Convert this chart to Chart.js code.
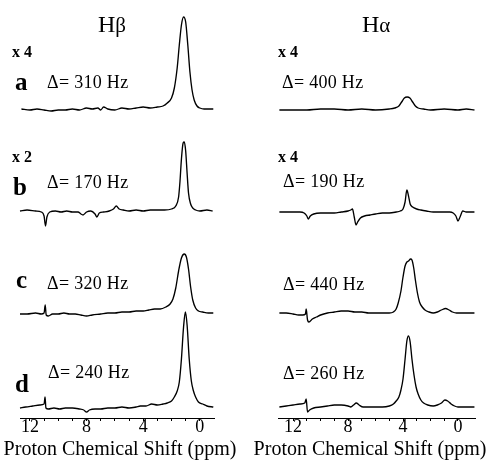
<!DOCTYPE html>
<html><head><meta charset="utf-8">
<script src="https://cdn.jsdelivr.net/npm/chart.js@4.4.1/dist/chart.umd.min.js"></script>
<style>
html,body{margin:0;padding:0;background:#fff;}
#wrap{position:relative;width:489px;height:467px;overflow:hidden;font-family:'Liberation Serif','Times New Roman',serif;color:#000;}
canvas{position:absolute;top:0;}
.t{position:absolute;white-space:nowrap;line-height:1;}
</style></head><body>
<div id="wrap">
<canvas id="cL" width="245" height="467" style="left:0px"></canvas>
<canvas id="cR" width="244" height="467" style="left:245px"></canvas>
</div>
<script>
// ---------------- DATA ----------------
const columnTitles = ['Hβ', 'Hα'];
const rowLetters = ['a', 'b', 'c', 'd'];
const hbDeltas = ['Δ= 310 Hz', 'Δ= 170 Hz', 'Δ= 320 Hz', 'Δ= 240 Hz'];
const haDeltas = ['Δ= 400 Hz', 'Δ= 190 Hz', 'Δ= 440 Hz', 'Δ= 260 Hz'];
const hbGain = ['x 4', 'x 2', '', ''];
const haGain = ['x 4', 'x 4', '', ''];
const tickPpm = [12, 11, 10, 9, 8, 7, 6, 5, 4, 3, 2, 1, 0];
const labelPpm = [12, 8, 4, 0];
const axisTitle = 'Proton Chemical Shift (ppm)';

// H-beta spectra (ppm, intensity)
const hbPpmA = [12.6,12.0,11.5,11.0,10.5,10.0,9.5,9.0,8.5,8.0,7.6,7.2,7.0,6.8,6.5,6.0,5.5,5.0,4.5,4.0,3.5,3.0,2.6,2.3,2.0,1.8,1.6,1.45,1.3,1.15,1.0,0.85,0.7,0.55,0.4,0.2,0.0,-0.3,-0.7,-0.95];
const hbIntA = [1,0,1,0,-1,0,0,1,0,2,1,2,0,3,1,0,2,1,2,3,2,3,4,7,12,22,42,65,85,93,88,65,38,20,10,4,2,1,1,1];

const hbPpmB = [12.7,12.2,11.6,11.2,11.0,10.9,10.8,10.6,10.2,9.8,9.4,9.0,8.6,8.4,8.25,8.0,7.7,7.4,7.27,7.1,6.8,6.4,6.1,5.9,5.7,5.4,5.0,4.5,4.0,3.5,3.0,2.5,2.0,1.7,1.5,1.4,1.3,1.18,1.1,1.0,0.9,0.8,0.65,0.5,0.3,0.0,-0.5,-0.9];
const hbIntB = [0,1,0,-1,-5,-15,-6,-1,0,-1,0,-1,-1,-3,-4,-1,0,-3,-6,-2,-1,0,2,5,2,1,0,1,0,1,1,1,2,5,14,30,52,68,69,60,38,18,7,3,1,0,1,0];

const hbPpmC = [12.7,12.2,11.6,11.2,11.0,10.92,10.85,10.7,10.4,10.0,9.6,9.2,8.8,8.4,8.0,7.6,7.0,6.5,6.0,5.5,5.0,4.5,4.0,3.6,3.2,2.8,2.4,2.1,1.9,1.7,1.5,1.3,1.1,0.95,0.8,0.65,0.5,0.3,0.1,-0.2,-0.6,-0.95];
const hbIntC = [-1,-1,0,-1,0,8,-2,-3,-1,-1,0,-1,-1,-2,-3,-2,-1,0,0,1,1,2,2,3,4,4,6,9,14,25,42,55,59,56,44,26,13,5,2,1,0,0];

const hbPpmD = [12.7,12.3,11.8,11.3,11.0,10.93,10.87,10.7,10.3,9.9,9.5,9.0,8.5,8.2,8.0,7.8,7.4,7.0,6.5,6.0,5.5,5.0,4.5,4.2,3.8,3.4,3.0,2.6,2.3,2.0,1.8,1.6,1.45,1.3,1.15,1.02,0.9,0.75,0.6,0.45,0.3,0.1,-0.2,-0.5,-0.95];
const hbIntD = [-1,0,1,2,3,10,-1,-2,-1,-2,-1,-1,-2,-3,-5,-3,-2,-2,-1,-1,0,-1,0,1,1,3,2,3,4,6,10,16,25,48,80,95,82,48,26,16,10,5,3,1,0];

// H-alpha spectra (ppm, intensity)
const haPpmA = [13.0,12.0,11.0,10.0,9.0,8.0,7.0,6.0,5.0,4.6,4.3,4.1,3.9,3.7,3.5,3.3,3.1,2.9,2.5,2.0,1.0,0.0,-0.6,-1.2];
const haIntA = [0,0,0,1,1,0,1,0,1,2,4,8,12,13,12,8,4,2,1,0,1,0,1,0];

const haPpmB = [13.0,12.5,12.0,11.5,11.2,11.0,10.9,10.75,10.5,10.0,9.5,9.0,8.5,8.0,7.8,7.68,7.55,7.42,7.3,7.1,6.8,6.4,6.0,5.5,5.0,4.5,4.2,4.0,3.85,3.72,3.6,3.48,3.3,3.0,2.7,2.3,1.8,1.2,0.6,0.35,0.15,0.0,-0.15,-0.35,-0.6,-1.2];
const haIntB = [0,0,0,0,-1,-4,-7,-4,-2,-1,-1,-1,0,1,2,3,-5,-13,-10,-6,-4,-3,-2,-1,-1,0,1,3,10,22,16,8,5,3,2,1,0,0,0,-1,-4,-9,-5,1,0,0];

const haPpmC = [13.0,12.5,12.0,11.6,11.3,11.1,11.05,10.95,10.85,10.6,10.3,10.0,9.5,9.0,8.5,8.0,7.5,7.0,6.5,6.0,5.5,5.0,4.7,4.5,4.35,4.15,4.0,3.85,3.72,3.6,3.45,3.35,3.22,3.1,2.95,2.8,2.6,2.4,2.1,1.8,1.5,1.2,0.9,0.65,0.4,0.1,-0.4,-1.2];
const haIntC = [0,0,-1,-2,-2,-1,4,-7,-9,-6,-4,-2,0,1,2,2,1,1,0,0,0,0,1,4,10,22,36,47,51,52,54,53,45,33,20,11,6,3,1,0,1,3,4.5,3,1,0,0,0];

const haPpmD = [13.0,12.5,12.0,11.5,11.15,11.05,10.95,10.8,10.5,10.0,9.5,9.0,8.5,8.0,7.8,7.6,7.4,7.2,6.9,6.5,6.0,5.5,5.0,4.7,4.5,4.3,4.15,4.0,3.85,3.72,3.6,3.48,3.35,3.2,3.05,2.9,2.7,2.5,2.2,1.8,1.5,1.2,0.95,0.75,0.5,0.25,0.0,-0.5,-1.2];
const haIntD = [0,1,2,3,4,8,-5,-3,-1,0,1,2,2,1,0,2,4,2,0,0,0,0,1,3,6,10,17,28,48,66,71,65,48,32,20,13,7,4,2,1,2,4,7,6,3,1,0,0,0];

// ---------------- LAYOUT ----------------
const SERIF = "'Liberation Serif','Times New Roman',serif";
function pts(px, iy) { return px.map((p, i) => ({x: p, y: iy[i]})); }

function ds(px, iy, axis) {
  return {data: pts(px, iy), yAxisID: axis, borderColor: '#000', borderWidth: 1.35,
    pointRadius: 0, fill: false, cubicInterpolationMode: 'monotone', clip: false};
}
function rowScale(min, max, w) {
  return {type: 'linear', display: false, stack: 'rows', stackWeight: 1, weight: w, min: min, max: max};
}
function makeChart(id, series, xmin, xmax, pad, rows) {
  return new Chart(document.getElementById(id), {
    type: 'line',
    data: {datasets: [
      ds(series[0][0], series[0][1], 'ya'),
      ds(series[1][0], series[1][1], 'yb'),
      ds(series[2][0], series[2][1], 'yc'),
      ds(series[3][0], series[3][1], 'yd')
    ]},
    options: {
      responsive: false, animation: false, events: [],
      layout: {padding: pad},
      plugins: {legend: {display: false}, tooltip: {enabled: false}},
      scales: {
        x: {type: 'linear', reverse: true, min: xmin, max: xmax,
          afterBuildTicks: s => { s.ticks = tickPpm.map(v => ({value: v})); },
          grid: {drawOnChartArea: false, drawTicks: true, tickLength: 3, color: '#000', tickColor: '#000'},
          border: {display: true, color: '#000', width: 1},
          ticks: {autoSkip: false, maxRotation: 0, padding: -3, color: '#000',
            font: {family: SERIF, size: 18, lineHeight: 1},
            callback: v => labelPpm.includes(v) ? String(v) : ''},
          title: {display: false}
        },
        ya: rowScale(rows[0][0], rows[0][1], 4),
        yb: rowScale(rows[1][0], rows[1][1], 3),
        yc: rowScale(rows[2][0], rows[2][1], 2),
        yd: rowScale(rows[3][0], rows[3][1], 1)
      }
    }
  });
}

makeChart('cL',
  [[hbPpmA, hbIntA], [hbPpmB, hbIntB], [hbPpmC, hbIntC], [hbPpmD, hbIntD]],
  -1.0, 12.7, {left: 20, right: 31, top: 8, bottom: 34},
  [[-0.5, 102], [-2, 100.5], [-2.5, 100], [-11, 91.5]]);
makeChart('cR',
  [[haPpmA, haIntA], [haPpmB, haIntB], [haPpmC, haIntC], [haPpmD, haIntD]],
  -1.24, 13.1, {left: 33, right: 14, top: 8, bottom: 34},
  [[-0.5, 102], [-1, 101.5], [-2.5, 100], [-11, 91.5]]);

// ---------------- TEXT ----------------
const wrap = document.getElementById('wrap');
function put(html, x, base, size, weight, extra) {
  const d = document.createElement('div');
  d.className = 't';
  d.innerHTML = html;
  d.style.left = x + 'px';
  d.style.top = (base - 0.8375 * size) + 'px';
  d.style.fontSize = size + 'px';
  d.style.fontWeight = weight || 'normal';
  if (extra) Object.assign(d.style, extra);
  wrap.appendChild(d);
}
function title(t, x) {
  put(t.charAt(0) + '<span style="font-size:21px">' + t.slice(1) + '</span>', x, 32, 24);
}
title(columnTitles[0], 98);
title(columnTitles[1], 362);

// axis titles centred under each panel
put(axisTitle, 0, 455, 20, 'normal', {width: '240px', textAlign: 'center'});
put(axisTitle, 250, 455, 20, 'normal', {width: '240px', textAlign: 'center'});

const gainBase = [57, 162];
const letterPos = [[15, 90], [13, 195], [16, 288], [15, 392]];
const hbDeltaPos = [[47, 88], [47, 188], [47, 289], [48, 378]];
const haDeltaPos = [[282, 88], [283, 187], [283, 290], [283, 379]];
const dStyle = {letterSpacing: '0.3px'};
for (let i = 0; i < 4; i++) {
  if (hbGain[i]) put(hbGain[i], 12, gainBase[i], 16, 'bold');
  if (haGain[i]) put(haGain[i], 278, gainBase[i], 16, 'bold');
  put(rowLetters[i], letterPos[i][0], letterPos[i][1], 25, 'bold');
  put(hbDeltas[i], hbDeltaPos[i][0], hbDeltaPos[i][1], 18, 'normal', dStyle);
  put(haDeltas[i], haDeltaPos[i][0], haDeltaPos[i][1], 18, 'normal', dStyle);
}
</script>
</body></html>
